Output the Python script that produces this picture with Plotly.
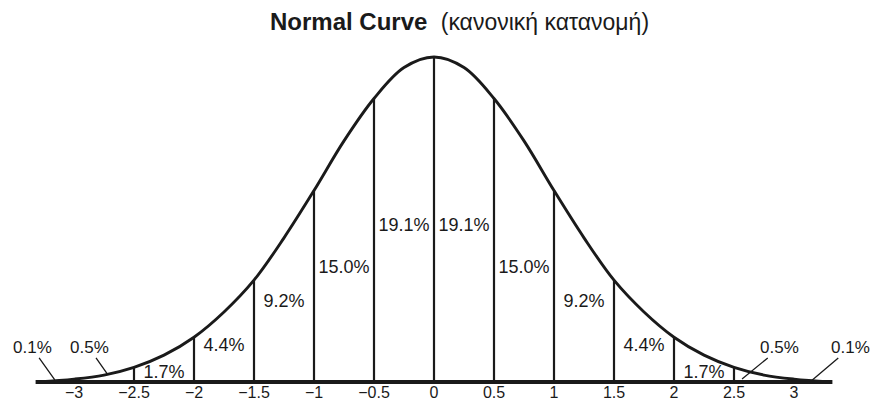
import plotly.graph_objects as go

# Curve heights (density) sampled along the z axis
curve_x = [-3.3, -3.0, -2.75, -2.5, -2.25, -2.0, -1.75, -1.5, -1.25, -1.0, -0.75, -0.5, -0.25,
           0.0, 0.25, 0.5, 0.75, 1.0, 1.25, 1.5, 1.75, 2.0, 2.25, 2.5, 2.75, 3.0, 3.3]
curve_y = [0.0, 0.0035, 0.0085, 0.018, 0.033, 0.055, 0.086, 0.125, 0.177, 0.235, 0.296, 0.348, 0.386,
           0.399, 0.386, 0.348, 0.296, 0.235, 0.177, 0.125, 0.086, 0.055, 0.033, 0.018, 0.0085, 0.0035, 0.0]

# Dividing lines between the half-sigma bands
divider_x = [-3.0, -2.5, -2.0, -1.5, -1.0, -0.5, 0.0, 0.5, 1.0, 1.5, 2.0, 2.5, 3.0]

# Band percentages written inside the curve
band_labels = ["1.7%", "4.4%", "9.2%", "15.0%", "19.1%", "19.1%", "15.0%", "9.2%", "4.4%", "1.7%"]
band_x = [-2.25, -1.75, -1.25, -0.75, -0.25, 0.25, 0.75, 1.25, 1.75, 2.25]
band_y = [0.011, 0.0430, 0.0970, 0.139, 0.191, 0.191, 0.139, 0.0970, 0.0430, 0.011]

# Tail percentages with pointer lines
tail_labels = ["0.1%", "0.5%", "0.5%", "0.1%"]
tail_text_x = [-3.35, -2.875, 2.883, 3.467]
tail_text_y = [0.0418, 0.0418, 0.0418, 0.0418]
tail_tip_x = [-3.16, -2.717, 2.567, 3.133]
tail_tip_y = [0.0025, 0.0086, 0.0037, 0.0]

tick_vals = [-3, -2.5, -2, -1.5, -1, -0.5, 0, 0.5, 1, 1.5, 2, 2.5, 3]
tick_text = ["\u22123", "\u22122.5", "\u22122", "\u22121.5", "\u22121", "\u22120.5",
             "0", "0.5", "1", "1.5", "2", "2.5", "3"]

FONT = "Liberation Sans, Arial, Helvetica, sans-serif"
INK = "#1a1a1a"

fig = go.Figure()

# vertical dividers from the baseline up to the curve
lookup = dict(zip(curve_x, curve_y))
vx, vy = [], []
for d in divider_x:
    vx += [d, d, None]
    vy += [0, lookup[d], None]
fig.add_trace(go.Scatter(x=vx, y=vy, mode="lines",
                         line=dict(color=INK, width=2.2), hoverinfo="skip"))

# thick baseline
fig.add_trace(go.Scatter(x=[-3.32, 3.32], y=[0, 0], mode="lines",
                         line=dict(color=INK, width=4), hoverinfo="skip"))

# the bell curve
fig.add_trace(go.Scatter(x=curve_x, y=curve_y, mode="lines",
                         line=dict(color=INK, width=2.9, shape="spline", smoothing=1.0),
                         hoverinfo="skip"))

# band labels
fig.add_trace(go.Scatter(x=band_x, y=band_y, mode="text", text=band_labels,
                         textfont=dict(family=FONT, size=18, color=INK),
                         textposition="middle center", hoverinfo="skip", cliponaxis=False))

# tail labels with pointer lines
for lbl, tx, ty, px, py in zip(tail_labels, tail_text_x, tail_text_y, tail_tip_x, tail_tip_y):
    fig.add_annotation(x=px, y=py, ax=tx, ay=ty, axref="x", ayref="y", xref="x", yref="y",
                       text=lbl, showarrow=True, arrowhead=0, arrowwidth=1.3, arrowcolor=INK,
                       font=dict(family=FONT, size=17, color=INK), borderpad=0, standoff=0)

# title
fig.add_annotation(xref="paper", yref="paper", x=459 / 875, y=1 - 22 / 384,
                   xanchor="center", yanchor="middle", showarrow=False,
                   text="<b>Normal Curve</b>  <span style='font-size:23px'>(κανονική κατανομή)</span>",
                   font=dict(family=FONT, size=24, color=INK))

fig.update_layout(
    width=875, height=404,
    margin=dict(l=0, r=0, t=0, b=20),
    paper_bgcolor="white", plot_bgcolor="white",
    showlegend=False,
    template="none",
    xaxis=dict(range=[-434 / 120, 441 / 120], tickvals=tick_vals, ticktext=tick_text,
               showgrid=False, zeroline=False, showline=False, ticks="",
               ticklabelstandoff=-3,
               tickfont=dict(family=FONT, size=16, color=INK), automargin=False,
               fixedrange=True),
    yaxis=dict(range=[-2 * 0.399 / 325, 382 * 0.399 / 325], visible=False,
               showgrid=False, zeroline=False, automargin=False, fixedrange=True),
)

fig.write_html("out.html")
